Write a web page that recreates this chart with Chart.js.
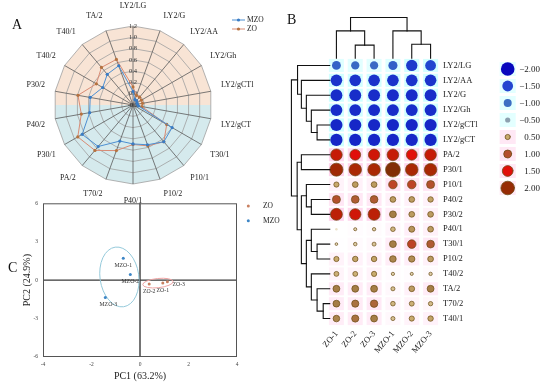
<!DOCTYPE html>
<html><head><meta charset="utf-8">
<script src="https://cdn.jsdelivr.net/npm/chart.js@4"></script>
<style>
html,body{margin:0;padding:0;background:#fff;width:550px;height:388px;overflow:hidden;position:relative;}
canvas{position:absolute;}
#cA{left:0;top:0;width:266px;height:210px;}
#cB{left:280px;top:0;width:270px;height:388px;}
#cC{left:0;top:195px;width:280px;height:193px;}
.lbl{position:absolute;font:14px "Liberation Serif",serif;color:#111;line-height:14px;}
</style></head><body>
<canvas id="cC" width="280" height="193"></canvas>
<canvas id="cA" width="266" height="210"></canvas>
<canvas id="cB" width="270" height="388"></canvas>
<div class="lbl" style="left:12px;top:18px">A</div>
<div class="lbl" style="left:287px;top:13px">B</div>
<div class="lbl" style="left:8px;top:261px">C</div>
<script>
// ---------------- DATA ----------------
// Panel A (radar)
const radarLabels = ['LY2/LG','LY2/G','LY2/AA','LY2/Gh','LY2/gCTl','LY2/gCT','T30/1','P10/1','P10/2','P40/1','T70/2','PA/2','P30/1','P40/2','P30/2','T40/2','T40/1','TA/2'];
const mzoRadar = [0.04,-0.1,-0.1,-0.12,-0.12,-0.1,0.60,0.65,0.55,0.49,0.48,0.76,0.84,0.58,0.57,0.42,0.51,0.54];
const zoRadar  = [0.12,-0.02,-0.02,-0.03,-0.03,-0.04,0.49,0.65,0.57,0.50,0.66,0.85,0.93,0.73,0.79,0.55,0.67,0.66];
const radarTicks = {min:-0.2, max:1.2, step:0.2};

// Panel B (bubble heat map)
const rowLabels = ['LY2/LG','LY2/AA','LY2/G','LY2/Gh','LY2/gCTl','LY2/gCT','PA/2','P30/1','P10/1','P40/2','P30/2','P40/1','T30/1','P10/2','T40/2','TA/2','T70/2','T40/1'];
const colLabels = ['ZO-1','ZO-2','ZO-3','MZO-1','MZO-2','MZO-3'];
const zo1  = [-1.15,-1.65,-1.7,-1.7,-1.75,-1.75,1.65,1.9,0.5,1.0,1.7,0.0,0.05,0.5,0.45,0.8,0.8,0.75];
const zo2  = [-1.05,-1.65,-1.7,-1.7,-1.75,-1.75,1.5,1.8,0.6,0.95,1.6,0.12,0.2,0.55,0.45,0.8,0.85,0.85];
const zo3  = [-1.05,-1.65,-1.7,-1.7,-1.75,-1.75,1.6,1.8,0.6,0.95,1.7,0.18,0.28,0.55,0.5,0.8,0.9,0.8];
const mzo1 = [-1.2,-1.65,-1.7,-1.7,-1.75,-1.75,1.65,2.2,1.1,0.6,0.8,0.4,0.8,0.75,0.15,0.3,0.4,0.3];
const mzo2 = [-1.6,-1.65,-1.7,-1.7,-1.75,-1.75,1.5,1.8,1.1,0.6,0.6,0.65,1.1,0.7,0.12,0.6,0.45,0.5];
const mzo3 = [-1.5,-1.65,-1.7,-1.7,-1.75,-1.75,1.65,1.8,1.0,0.55,0.6,0.6,0.95,0.6,0.18,0.8,0.35,0.55];
const legendValues = [-2,-1.5,-1,-0.5,0.5,1,1.5,2];
const legendText = ['\u22122.00','\u22121.50','\u22121.00','\u22120.50','0.50','1.00','1.50','2.00'];
// cluster trees (merge heights, arbitrary distance units)
const rowTree = {h:10,c:[
  {h:8.4,c:['LY2/LG',{h:7.4,c:['LY2/AA',{h:6.1,c:['LY2/G',{h:4.8,c:['LY2/Gh',{h:3.3,c:['LY2/gCTl','LY2/gCT']}]}]}]}]},
  {h:8.5,c:[{h:7.4,c:['PA/2','P30/1']},
    {h:7.4,c:[{h:6.1,c:['P10/1',{h:4.8,c:['P40/2','P30/2']}]},
      {h:6.1,c:[{h:4.8,c:['P40/1',{h:3.3,c:['T30/1','P10/2']}]},
                {h:4.8,c:['T40/2',{h:3.3,c:['TA/2',{h:1.7,c:['T70/2','T40/1']}]}]}]}]}]}]};
const colTree = {h:10,c:[{h:6.7,c:['ZO-1',{h:3.2,c:['ZO-2','ZO-3']}]},{h:6.7,c:['MZO-1',{h:3.4,c:['MZO-2','MZO-3']}]}]};

// Panel C (PCA)
const zoNames = ['ZO-1','ZO-2','ZO-3'];
const zoPC1 = [0.94,0.38,1.13];
const zoPC2 = [-0.23,-0.31,-0.13];
const mzoNames = ['MZO-1','MZO-2','MZO-3'];
const mzoPC1 = [-0.69,-0.40,-1.43];
const mzoPC2 = [1.71,0.44,-1.36];
const mzoEllipse = [-0.85,0.25,0.80,2.35,-8];  // cx, cy, semi-x, semi-y (data units), tilt deg
const zoEllipse  = [0.74,-0.23,0.63,0.36,-6];

// ---------------- STYLE ----------------
const FONT = '"Liberation Serif","Times New Roman",serif';
Chart.defaults.font.family = FONT;
Chart.defaults.color = '#222';
Chart.defaults.animation = false;
Chart.defaults.events = [];
Chart.defaults.plugins.legend.display = false;
Chart.defaults.plugins.tooltip.enabled = false;
const BLUE = '#4d8fd1', ORANGE = '#d98b74';

// ---------------- A: radar ----------------
const A_CX = 133, A_CY = 105, A_R = 79;   // target centre/radius on the page
let offA = {x:0, y:0};
const radarBg = {id:'radarBg', beforeDraw(chart){
  const s = chart.scales.r, ctx = chart.ctx, n = chart.data.labels.length;
  ctx.save(); ctx.beginPath();
  for(let i=0;i<n;i++){const p=s.getPointPositionForValue(i,s.max); i?ctx.lineTo(p.x,p.y):ctx.moveTo(p.x,p.y);}
  ctx.closePath(); ctx.clip();
  const r = s.drawingArea+3;
  ctx.fillStyle='#f8e4d5'; ctx.fillRect(s.xCenter-r,s.yCenter-r,2*r,r);
  ctx.fillStyle='#d5eaed'; ctx.fillRect(s.xCenter-r,s.yCenter,2*r,r);
  ctx.restore();
}};
const radarLegend = {id:'radarLegend', afterDraw(chart){
  const ctx = chart.ctx; ctx.save();
  chart.data.datasets.forEach((d,i)=>{
    const y = 20 + i*9 - offA.y, x0 = 232 - offA.x;
    ctx.strokeStyle=d.borderColor; ctx.lineWidth=1; ctx.beginPath(); ctx.moveTo(x0,y); ctx.lineTo(x0+13,y); ctx.stroke();
    ctx.fillStyle=d.pointBackgroundColor; ctx.beginPath(); ctx.arc(x0+6.5,y,1.6,0,Math.PI*2); ctx.fill();
    ctx.fillStyle='#222'; ctx.font='7.5px '+FONT; ctx.textBaseline='middle'; ctx.textAlign='left'; ctx.fillText(d.label,x0+15,y+0.5);
  });
  ctx.restore();
}};
const labelPad = c => c.index===0 ? 10 : (c.index===9 ? 7 : 5);
const chA = new Chart(document.getElementById('cA'), {
  type:'radar',
  data:{labels:radarLabels, datasets:[
    {label:'MZO', data:mzoRadar, borderColor:BLUE, backgroundColor:BLUE, pointBackgroundColor:'#3a7cc4', borderWidth:1, pointRadius:1.6, pointBorderWidth:0, fill:false},
    {label:'ZO', data:zoRadar, borderColor:ORANGE, backgroundColor:ORANGE, pointBackgroundColor:'#b5723f', borderWidth:1, pointRadius:1.6, pointBorderWidth:0, fill:false}
  ]},
  options:{responsive:false, devicePixelRatio:1, layout:{padding:4},
    scales:{r:{min:radarTicks.min, max:radarTicks.max,
      ticks:{stepSize:radarTicks.step, callback:v=>(Math.abs(v)<1e-9?0:v).toFixed(1), font:{size:6.5}, color:'#333', showLabelBackdrop:false},
      grid:{color:'#a0a0a0', lineWidth:0.8},
      angleLines:{color:'#5a5a5a', lineWidth:0.8},
      pointLabels:{font:{size:8}, color:'#222', padding:labelPad}}}},
  plugins:[radarBg, radarLegend]
});
// fit the radius, then place the canvas so the centre lands where the reference has it
let padA = 4;
for(let k=0;k<8;k++){
  const d = chA.scales.r.drawingArea - A_R;
  if(Math.abs(d)<0.3) break;
  padA += d; chA.options.layout.padding = padA; chA.update();
}
{
  const s = chA.scales.r;
  offA = {x:A_CX - s.xCenter, y:A_CY - s.yCenter};
  const cv = document.getElementById('cA');
  cv.style.left = offA.x+'px'; cv.style.top = offA.y+'px';
  chA.update();
}

// ---------------- B: bubble matrix ----------------
const cols = [zo1,zo2,zo3,mzo1,mzo2,mzo3];
const sizeOf = v => 1.2 + 2.8*Math.abs(v);
function lerpStops(stops, t){
  if(t<=stops[0][0]) return stops[0][1];
  for(let i=1;i<stops.length;i++){ if(t<=stops[i][0]){const [a,ca]=stops[i-1],[b,cb]=stops[i]; const f=(t-a)/(b-a); return ca.map((c,k)=>Math.round(c+(cb[k]-c)*f));}}
  return stops[stops.length-1][1];
}
const negStops = [[0,[190,200,205]],[0.5,[140,160,175]],[1.0,[60,110,195]],[1.5,[35,70,208]],[2.0,[8,8,190]]];
const posStops = [[0,[235,225,200]],[0.5,[200,170,110]],[0.8,[165,125,70]],[1.0,[180,80,45]],[1.5,[225,15,10]],[1.8,[170,40,5]],[2.2,[130,45,5]]];
const colorOf = v => 'rgb('+(v<0?lerpStops(negStops,-v):lerpStops(posStops,v)).join(',')+')';
const bubbleData = [];
cols.forEach((arr,ci)=>arr.forEach((v,ri)=>bubbleData.push({x:colLabels[ci], y:rowLabels[ri], r:sizeOf(v), v})));

const cellBg = {id:'cellBg', beforeDatasetsDraw(chart){
  const {x,y}=chart.scales, ctx=chart.ctx; ctx.save();
  cols.forEach((arr,ci)=>arr.forEach((v,ri)=>{
    const px=x.getPixelForValue(ci), py=y.getPixelForValue(ri);
    const a = Math.min(0.75, Math.abs(v)*0.4);
    ctx.fillStyle = v<0 ? 'rgba(185,255,255,'+a+')' : 'rgba(255,195,230,'+a+')';
    ctx.fillRect(px-7.5,py-6.5,15,13);
  }));
  ctx.restore();
}};
function drawTree(ctx,node,leafPos,hPix,horizontal){
  if(typeof node==='string') return {p:leafPos(node),h:0};
  const kids = node.c.map(k=>drawTree(ctx,k,leafPos,hPix,horizontal));
  const hp = hPix(node.h);
  ctx.beginPath();
  kids.forEach(k=>{ if(horizontal){ctx.moveTo(hPix(k.h),k.p);ctx.lineTo(hp,k.p);} else {ctx.moveTo(k.p,hPix(k.h));ctx.lineTo(k.p,hp);} });
  const ps = kids.map(k=>k.p);
  if(horizontal){ctx.moveTo(hp,Math.min(...ps));ctx.lineTo(hp,Math.max(...ps));}
  else {ctx.moveTo(Math.min(...ps),hp);ctx.lineTo(Math.max(...ps),hp);}
  ctx.stroke();
  return {p:(Math.min(...ps)+Math.max(...ps))/2,h:node.h};
}
const dendro = {id:'dendro', afterDraw(chart){
  const {x,y}=chart.scales, ctx=chart.ctx; ctx.save();
  ctx.strokeStyle='#111'; ctx.lineWidth=1.1; ctx.lineCap='square';
  const leafX = x.getPixelForValue(0)-6.7, leafY = y.getPixelForValue(0)-7.3;
  drawTree(ctx,rowTree,n=>y.getPixelForValue(rowLabels.indexOf(n)),h=>leafX-h*3.83,true);
  drawTree(ctx,colTree,n=>x.getPixelForValue(colLabels.indexOf(n)),h=>leafY-h*4.07,false);
  // size/colour legend
  const lx=227.7, ty=69, dy=17.0;
  legendValues.forEach((v,i)=>{
    const py=ty+i*dy;
    ctx.fillStyle = v<0?'rgba(200,255,255,0.5)':'rgba(255,210,235,0.5)';
    ctx.fillRect(lx-8,py-7,16,14);
    ctx.fillStyle=colorOf(v); ctx.beginPath(); ctx.arc(lx,py,sizeOf(v),0,Math.PI*2); ctx.fill();
    if(v>0){ctx.strokeStyle='rgba(105,75,20,0.75)';ctx.lineWidth=1;ctx.stroke();}
    ctx.fillStyle='#222'; ctx.font='9px '+FONT; ctx.textAlign='right'; ctx.textBaseline='middle';
    ctx.fillText(legendText[i],260,py+0.5);
  });
  ctx.restore();
}};
new Chart(document.getElementById('cB'), {
  type:'bubble',
  data:{datasets:[{data:bubbleData, clip:false,
    backgroundColor:c=>colorOf(c.raw.v),
    borderColor:c=>c.raw.v>0?'rgba(105,75,20,0.7)':'rgba(0,0,0,0)',
    borderWidth:c=>c.raw.v>0?1:0}]},
  options:{responsive:false, devicePixelRatio:1,
    layout:{padding:{left:47,top:58,right:0,bottom:0}},
    scales:{
      x:{type:'category', labels:colLabels, offset:true, position:'bottom',
         grid:{display:false, drawTicks:false}, border:{display:false},
         ticks:{minRotation:50, maxRotation:50, font:{size:8.5}, color:'#222', padding:3, autoSkip:false},
         afterFit:s=>{s.height=62;}},
      y:{type:'category', labels:rowLabels, offset:true, position:'right',
         grid:{display:false, drawTicks:false}, border:{display:false},
         ticks:{font:{size:8.5}, color:'#222', padding:3, autoSkip:false},
         afterFit:s=>{s.width=110;}}
    }},
  plugins:[cellBg, dendro]
});

// ---------------- C: PCA ----------------
const pcaDeco = {id:'pcaDeco',
  beforeDatasetsDraw(chart){
    const {x,y}=chart.scales, ctx=chart.ctx, a=chart.chartArea; ctx.save();
    ctx.strokeStyle='#3a3a3a'; ctx.lineWidth=1.4; ctx.beginPath();
    ctx.moveTo(x.getPixelForValue(0),a.top); ctx.lineTo(x.getPixelForValue(0),a.bottom);
    ctx.moveTo(a.left,y.getPixelForValue(0)); ctx.lineTo(a.right,y.getPixelForValue(0)); ctx.stroke();
    ctx.strokeStyle='#555'; ctx.lineWidth=1; ctx.strokeRect(a.left+0.5,a.top+0.5,a.width-1,a.height-1);
    [[mzoEllipse,'#94c9da'],[zoEllipse,'#efa4a4']].forEach(([e,col])=>{
      const cx=x.getPixelForValue(e[0]), cy=y.getPixelForValue(e[1]);
      const rx=Math.abs(x.getPixelForValue(e[0]+e[2])-cx), ry=Math.abs(y.getPixelForValue(e[1]+e[3])-cy);
      ctx.strokeStyle=col; ctx.lineWidth=1; ctx.beginPath(); ctx.ellipse(cx,cy,rx,ry,e[4]*Math.PI/180,0,Math.PI*2); ctx.stroke();
    });
    ctx.restore();
  },
  afterDatasetsDraw(chart){
    const ctx=chart.ctx; ctx.save(); ctx.font='5.8px '+FONT; ctx.fillStyle='#333';
    chart.data.datasets.forEach((d,di)=>{
      const meta=chart.getDatasetMeta(di);
      d.names.forEach((nm,i)=>{
        const p=meta.data[i];
        if(nm==='ZO-3'){ctx.textAlign='left';ctx.textBaseline='middle';ctx.fillText(nm,p.x+5,p.y+2.5);}
        else {ctx.textAlign='center';ctx.textBaseline='top';ctx.fillText(nm,p.x+(nm==='MZO-3'?3:0),p.y+4);}
      });
    });
    // legend
    chart.data.datasets.forEach((d,i)=>{
      const py=11+i*14.7;
      ctx.fillStyle=d.backgroundColor; ctx.beginPath(); ctx.arc(248.3,py,1.5,0,Math.PI*2); ctx.fill();
      ctx.fillStyle='#222'; ctx.font='7.5px '+FONT; ctx.textAlign='left'; ctx.textBaseline='middle'; ctx.fillText(d.label,263,py+0.5);
    });
    ctx.restore();
  }};
new Chart(document.getElementById('cC'), {
  type:'scatter',
  data:{datasets:[
    {label:'ZO', names:zoNames, data:zoPC1.map((v,i)=>({x:v,y:zoPC2[i]})), backgroundColor:'#c98060', pointRadius:1.5, pointBorderWidth:0},
    {label:'MZO', names:mzoNames, data:mzoPC1.map((v,i)=>({x:v,y:mzoPC2[i]})), backgroundColor:'#3d86c6', pointRadius:1.5, pointBorderWidth:0}
  ]},
  options:{responsive:false, devicePixelRatio:1,
    layout:{padding:{left:0,top:5,right:43,bottom:0}},
    scales:{
      x:{type:'linear', min:-4, max:4, grid:{display:false, drawTicks:false}, border:{display:false},
         ticks:{stepSize:2, font:{size:5.5}, color:'#444', padding:4},
         title:{display:true, text:'PC1 (63.2%)', font:{size:10}, color:'#222', padding:{top:0,bottom:6}},
         afterFit:s=>{s.height=31;}},
      y:{type:'linear', min:-6, max:6, grid:{display:false, drawTicks:false}, border:{display:false},
         ticks:{stepSize:3, font:{size:5.5}, color:'#444', padding:5},
         title:{display:true, text:'PC2 (24.9%)', font:{size:10}, color:'#222', padding:{top:21,bottom:0}},
         afterFit:s=>{s.width=43;}}
    }},
  plugins:[pcaDeco]
});
</script>
</body></html>
